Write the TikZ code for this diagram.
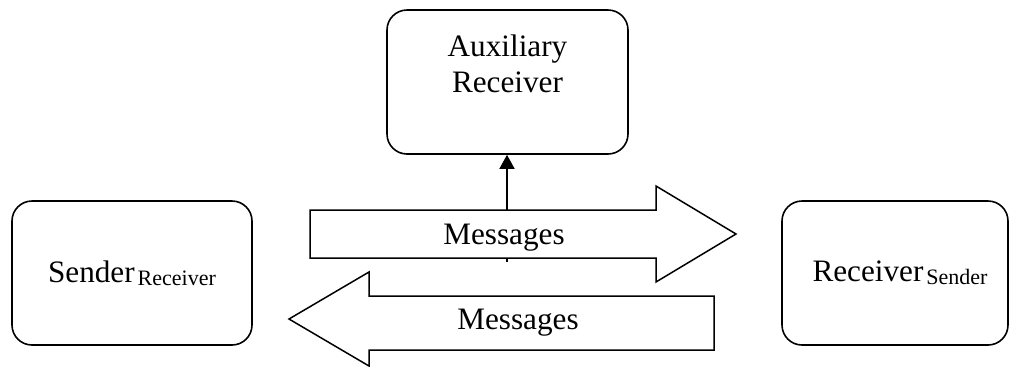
\documentclass[tikz,border=0pt]{standalone}
\usepackage{fontspec}
\setmainfont{Liberation Serif}
\usetikzlibrary{arrows.meta}
\newcommand{\mainsize}{\fontsize{15.6}{18}\selectfont}
\newcommand{\subsize}[1]{\hspace{1.5pt}\raisebox{-1.5pt}{\fontsize{11}{13}\selectfont #1}}
\tikzstyle{party}=[
        draw = black,
        line width = 0.8pt,
        fill = white,
        rounded corners = 10pt,
        minimum height = 72pt,
        inner sep = 0pt,
        align = center,
        font = \mainsize
    ]
\tikzstyle{block arrow}=[
    draw = black,
    line width = 0.75pt,
    fill = white
]
\begin{document}
\begin{tikzpicture}[x=0.5pt, y=-0.5pt, line width=0.75pt]
        \useasboundingbox (0,0) rectangle (1010,366);

        % the three parties
        \node[party, minimum width=120.5pt] (aux) at (507.5,82) {Auxiliary\\Receiver\\\mbox{}};
        \node[party, minimum width=120pt] (snd) at (132,273) {Sender\subsize{Receiver}};
        \node[party, minimum width=113pt] (rcv) at (895,273) {\hspace*{5pt}Receiver\subsize{Sender}};

        % tap to the auxiliary receiver
        \coordinate (tap) at (507,262);
        \draw[-{Triangle[length=7pt, width=7.5pt]}] (tap) -- (tap |- aux.south);

        % message flows
        \draw[block arrow] (310,210) -- (656,210) -- (656,186) -- (736,234)
            -- (656,282) -- (656,258) -- (310,258) -- cycle;
        \draw[block arrow] (714,296) -- (369,296) -- (369,272) -- (289,319)
            -- (369,366) -- (369,350) -- (714,350) -- cycle;
        \node[anchor=base, font=\mainsize] (fwd) at (504,244) {Messages};
        \node[anchor=base, font=\mainsize] (bwd) at (518,329) {Messages};

    \end{tikzpicture}
\end{document}
